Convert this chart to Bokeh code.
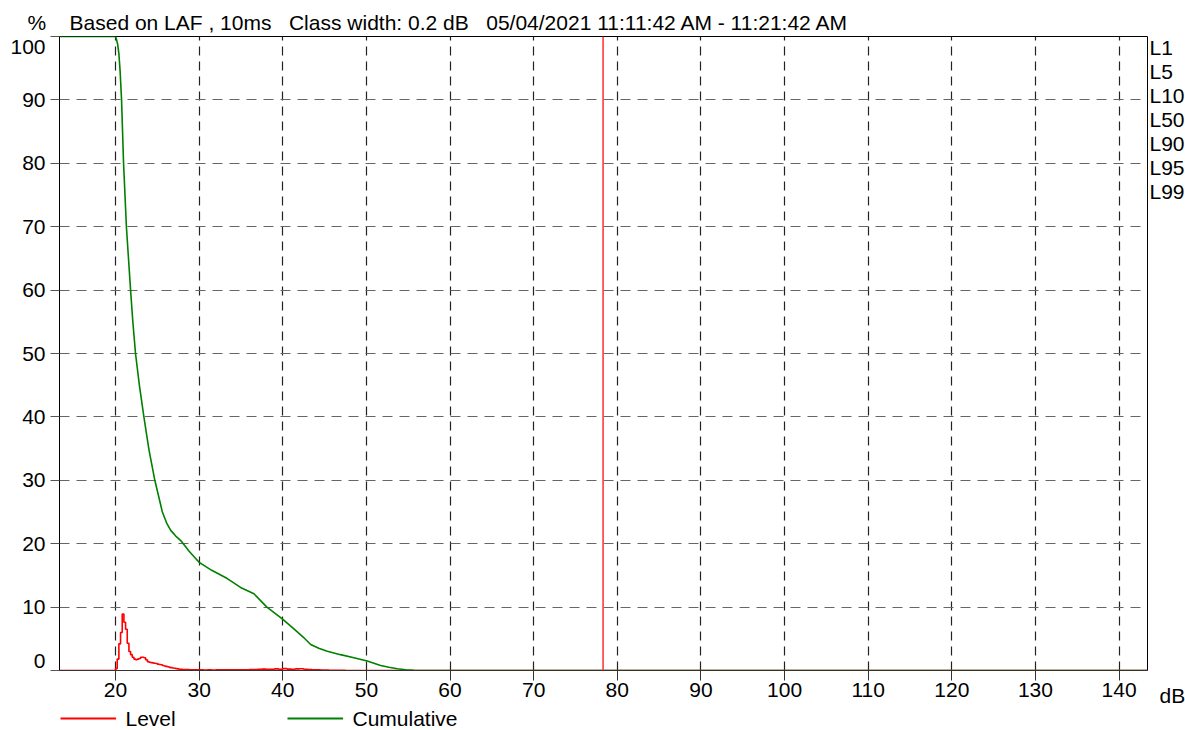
import numpy as np
from bokeh.plotting import figure
from bokeh.models import (Range1d, Span, FixedTicker, LinearAxis, Label)
from bokeh.embed import file_html
from bokeh.resources import INLINE

# ---------------- data ----------------
x_ticks = [20, 30, 40, 50, 60, 70, 80, 90, 100, 110, 120, 130, 140]
x_unit = "dB"
y_ticks = [0, 10, 20, 30, 40, 50, 60, 70, 80, 90, 100]
y_tick_labels = [str(v) for v in y_ticks]
y_unit = "%"

header_parts = ["Based on LAF , 10ms", "Class width: 0.2 dB",
                "05/04/2021 11:11:42 AM - 11:21:42 AM"]
stat_labels = ["L1", "L5", "L10", "L50", "L90", "L95", "L99"]
legend_labels = ["Level", "Cumulative"]
marker_db = 78.3
class_width = 0.2

# cumulative distribution (% of time above level)
cum_db = [13.3, 20.0, 20.1, 20.25, 20.4, 20.55, 20.72, 20.96, 21.3, 21.8,
          22.07, 22.39, 22.85, 23.39, 24.0, 24.7, 25.6, 26.1, 26.6, 27.2,
          27.8, 28.8, 29.96, 31.5, 33.36, 34.95, 36.55, 38.1, 39.94, 41.33,
          42.5, 43.33, 44.3, 45.32, 46.9, 48.5, 50.1, 51.7, 52.7, 53.7, 54.7,
          55.7, 57.0, 143.4]
cum_pct = [100, 100, 99.6, 98.8, 97.3, 94.5, 90.0, 80.0, 70.0, 60.0,
           55.0, 50.0, 45.0, 40.0, 34.8, 30.0, 25.0, 23.3, 22.1, 21.2,
           20.5, 18.8, 17.1, 15.8, 14.5, 13.1, 12.1, 10.0, 8.15, 6.57,
           5.2, 4.1, 3.5, 3.05, 2.5, 2.0, 1.5, 0.8, 0.5, 0.27, 0.12,
           0.05, 0.0, 0.0]

# level distribution, 0.2 dB classes starting at 19.8 dB
level_fine_start = 19.8
level_fine_pct = [0.0, 0.3, 1.8, 4.2, 6.0, 8.9, 7.6, 6.5, 4.3, 3.0,
                  2.5, 2.1, 1.8, 1.7, 1.8, 1.9, 2.1, 2.1, 2.0, 1.7,
                  1.4, 1.3, 1.25, 1.2, 1.15, 1.1, 1.0, 0.95, 0.9, 0.8,
                  0.7, 0.65, 0.6, 0.5, 0.45, 0.4, 0.35, 0.3, 0.25, 0.2,
                  0.18, 0.16, 0.15, 0.15, 0.14, 0.13, 0.12, 0.12, 0.11, 0.1,
                  0.1, 0.1]
# tail, read every 0.5 dB
level_tail_db = [30.5, 31.0, 31.5, 32.0, 32.5, 33.0, 33.5, 34.0, 34.5, 35.0,
                 35.5, 36.0, 36.5, 37.0, 37.5, 38.0, 38.5, 39.0, 39.5, 40.0,
                 40.5, 41.0, 41.5, 42.0, 42.5, 43.0, 43.5, 44.0, 44.5, 45.0,
                 45.5, 46.0, 46.5, 47.0, 47.5, 48.0]
level_tail_pct = [0.08, 0.1, 0.09, 0.1, 0.1, 0.12, 0.1, 0.11, 0.12, 0.13,
                  0.12, 0.15, 0.14, 0.2, 0.22, 0.18, 0.2, 0.25, 0.2, 0.3,
                  0.22, 0.2, 0.25, 0.28, 0.2, 0.15, 0.12, 0.1, 0.08, 0.06,
                  0.05, 0.04, 0.03, 0.02, 0.01, 0.0]

# ---------------- geometry / style ----------------
X0, X1 = 13.3, 143.4
W, H = 1185, 730
FRAME_L, FRAME_T, FRAME_W, FRAME_H = 59, 36, 1088, 634   # pixels
FONT = "Liberation Sans"
FS = "21px"
NB = "\u00a0"
RED, GREEN = "#ff0000", "#008000"


def px_x(px):
    return X0 + (px - FRAME_L) / FRAME_W * (X1 - X0)


def px_y(py):
    return round((FRAME_T + FRAME_H - py) / FRAME_H * 100.0, 3)


level_fine_db = list(np.round(level_fine_start + class_width * np.arange(len(level_fine_pct)), 1))
level_db = [X0] + level_fine_db + level_tail_db + [X1]
level_pct = [0.0] + level_fine_pct + level_tail_pct + [0.0]

header = y_unit + NB * 4 + header_parts[0] + NB * 3 + header_parts[1] + NB * 3 + header_parts[2]

p = figure(frame_width=FRAME_W, frame_height=FRAME_H,
           min_border_left=FRAME_L, min_border_right=W - FRAME_L - FRAME_W,
           min_border_top=FRAME_T, min_border_bottom=H - FRAME_T - FRAME_H,
           x_range=Range1d(X0, X1), y_range=Range1d(0, 100),
           output_backend="svg", toolbar_location=None, title=header)
p.background_fill_color = "white"
p.border_fill_color = "white"
p.outline_line_color = "black"
p.outline_line_width = 1

# title = header line
p.title.align = "left"
p.title.offset = -32
p.title.standoff = 5
p.title.text_font = FONT
p.title.text_font_size = FS
p.title.text_font_style = "normal"
p.title.text_color = "black"

# x axis
xax = p.xaxis[0]
xax.ticker = FixedTicker(ticks=x_ticks)
xax.minor_tick_line_color = None
xax.major_tick_out = 10
xax.major_tick_in = 0
xax.major_tick_line_color = "#333333"
xax.axis_line_color = "#333333"
xax.major_label_text_font = FONT
xax.major_label_text_font_size = FS
xax.major_label_text_color = "black"
xax.major_label_standoff = 2

# main y axis: ticks only
yax = p.yaxis[0]
yt = FixedTicker(ticks=y_ticks)
yax.ticker = yt
p.ygrid.ticker = yt
yax.minor_tick_line_color = None
yax.major_tick_out = 9
yax.major_tick_in = 0
yax.major_tick_line_color = "#555555"
yax.axis_line_color = "black"
yax.major_label_standoff = 0
yax.major_label_overrides = {v: "" for v in y_ticks}

# second left axis carrying the tick labels (end labels kept inside the frame height)
y_label_pos = [px_y(660)] + y_ticks[1:-1] + [px_y(47)]
lab_ax = LinearAxis(ticker=FixedTicker(ticks=y_label_pos),
                    major_label_overrides={pos: t for pos, t in zip(y_label_pos, y_tick_labels)},
                    major_tick_out=0, major_tick_in=0, major_tick_line_color=None,
                    minor_tick_line_color=None, axis_line_color=None, major_label_standoff=5,
                    major_label_text_font=FONT, major_label_text_font_size=FS,
                    major_label_text_color="black")
p.add_layout(lab_ax, "left")

# right axis carrying the statistic labels
stat_pos = [px_y(47 + 24 * i) for i in range(len(stat_labels))]
stat_ax = LinearAxis(ticker=FixedTicker(ticks=stat_pos),
                     major_label_overrides={pos: t for pos, t in zip(stat_pos, stat_labels)},
                     major_tick_out=0, major_tick_in=0, major_tick_line_color=None,
                     minor_tick_line_color=None, axis_line_color=None, major_label_standoff=2,
                     major_label_text_font=FONT, major_label_text_font_size=FS,
                     major_label_text_color="black")
p.add_layout(stat_ax, "right")

# grid
p.xgrid.grid_line_color = "#222222"
p.xgrid.grid_line_dash = "9 6"
p.xgrid.grid_line_width = 1.2
p.ygrid.grid_line_color = "#666666"
p.ygrid.grid_line_dash = "10 7"
p.ygrid.grid_line_width = 1.2

# data lines
r_level = p.step(level_db, level_pct, mode="after", line_color=RED, line_width=1.6)
r_cum = p.line(cum_db, cum_pct, line_color=GREEN, line_width=1.6)

p.add_layout(Span(location=marker_db, dimension="height", line_color="#ff3b3b", line_width=1.6))

# unit label of the x axis, right of the frame
p.add_layout(Label(x=px_x(1159), y=px_y(695), text=x_unit, text_align="left",
                   text_baseline="middle", text_font=FONT, text_font_size=FS,
                   text_color="black"), "below")

# legend row below the axis: colour swatch + label
for lab, col, px in zip(legend_labels, [RED, GREEN], [60, 287]):
    p.add_layout(Label(x=px_x(px), y=px_y(718), text=NB * 100, text_align="left",
                       text_baseline="middle", text_font=FONT, text_font_size="2px",
                       text_color=col, background_fill_color=col), "below")
    p.add_layout(Label(x=px_x(px + 65), y=px_y(718), text=lab, text_align="left",
                       text_baseline="middle", text_font=FONT, text_font_size=FS,
                       text_color="black"), "below")

open("out.html", "w").write(file_html(p, INLINE))
